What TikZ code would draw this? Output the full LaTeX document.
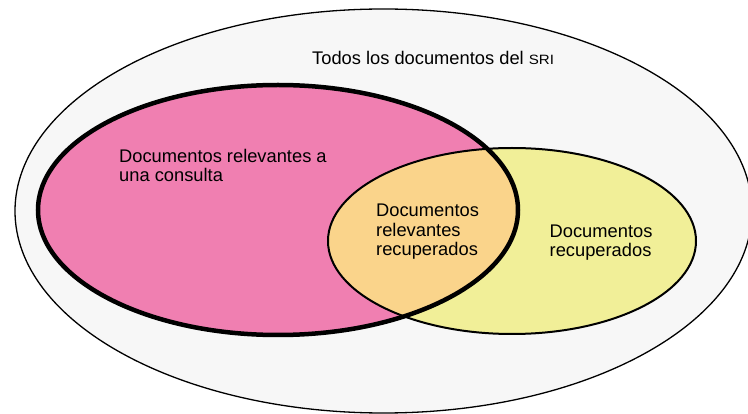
\documentclass[tikz,border=0pt]{standalone}
\usepackage{fontspec}
\setmainfont{Liberation Sans}
\definecolor{allgray}{HTML}{F7F7F7}
\definecolor{relpink}{HTML}{F07FB1}
\definecolor{retyellow}{HTML}{F1EF98}
\definecolor{bothorange}{HTML}{FAD48B}

\begin{document}
\begin{tikzpicture}[
  x=1pt,y=-1pt,
  universe/.style={
  	draw=black,
  	line width=1.3pt,
  	fill=allgray
  },
  relevant/.style={
  	draw=black,
  	line width=4.5pt
  },
  retrieved/.style={
  	draw=black,
  	line width=2pt
  },
  settext/.style={
  	align=left,
  	inner sep=0pt,
  	anchor=base west,
  	font=\fontsize{18.3}{19.8}\selectfont
  }
  ]
  \useasboundingbox (0,0) rectangle (748,414);
  
  \draw[universe] (383.5,211) ellipse [x radius=368.5, y radius=202];
  
  \fill[relpink] (278,210) ellipse [x radius=240, y radius=125];
  \fill[retyellow] (512,241) ellipse [x radius=184, y radius=93];
  \begin{scope}
  \clip (278,210) ellipse [x radius=240, y radius=125];
  \fill[bothorange] (512,241) ellipse [x radius=184, y radius=93];
  \end{scope}
  \draw[retrieved] (512,241) ellipse [x radius=184, y radius=93];
  \draw[relevant] (278,210) ellipse [x radius=240, y radius=125];
  
  % base west = baseline of the last line
  \node[settext] (alltext) at (312,65) {Todos los documentos del \scalebox{1.12}[1]{\fontsize{13.5}{14}\selectfont SRI}};
  \node[settext] (reltext) at (119,182) {Documentos relevantes a\\una consulta};
  \node[settext] (bothtext) at (376,256) {Documentos\\relevantes\\recuperados};
  \node[settext] (rettext) at (549.5,257) {Documentos\\recuperados};
  
\end{tikzpicture}
\end{document}
